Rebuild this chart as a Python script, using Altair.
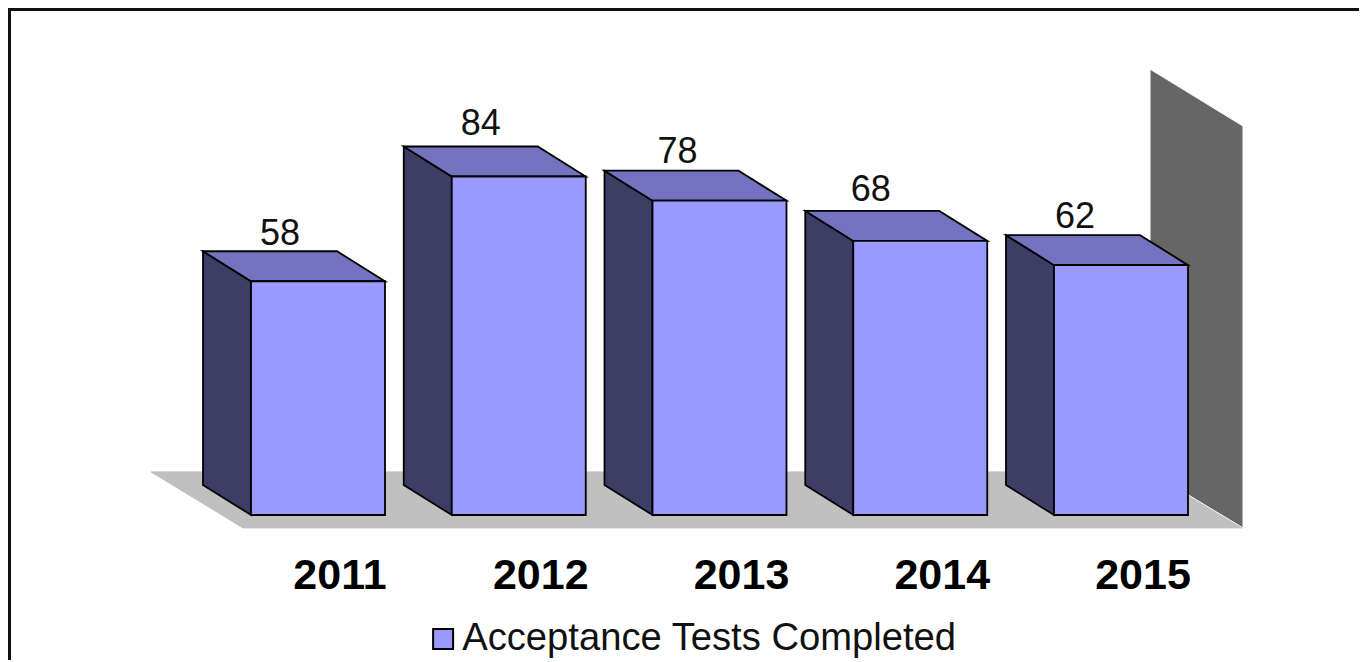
import altair as alt
import pandas as pd

years = ["2011", "2012", "2013", "2014", "2015"]
values = [58, 84, 78, 68, 62]
series_name = "Acceptance Tests Completed"
label_nudge_x = [-38, -38, -42, -49.5, -46]
label_nudge_y = [0, 5, 1, 3, 1]

W, H = 1351, 652
# scale units: 1 x unit = one category slot, 1 y unit = one test
SLOT_PX = 200.75
UNIT_PX = 4.03
X0_PAGE, Y0_PAGE = 251, 515
x_dom = [(8 - X0_PAGE) / SLOT_PX, (8 + W - X0_PAGE) / SLOT_PX]
y_dom = [(Y0_PAGE - 8 - H) / UNIT_PX, (Y0_PAGE - 8) / UNIT_PX]
xs = alt.Scale(domain=x_dom, nice=False, zero=False)
ys = alt.Scale(domain=y_dom, nice=False, zero=False)

BAR_W = 134 / SLOT_PX
DX = 48 / SLOT_PX     # depth offset
DY = 30 / UNIT_PX
LABEL_SHIFT = 22 / SLOT_PX
AXIS_MAX = 96.5       # front height of the back wall
FLOOR_DROP = 3.2

front, side, top, labels = [], [], [], []
for i, (yr, v) in enumerate(zip(years, values)):
    front.append(dict(year=yr, series=series_name, x=i, x2=i + BAR_W, y=v, y2=0))
    side += [dict(year=yr, x=i - DX, y=v + DY, y2=DY), dict(year=yr, x=i, y=v, y2=0)]
    top += [
        dict(year=yr, x=i - DX, y=v + DY, y2=v + DY),
        dict(year=yr, x=i, y=v + DY, y2=v),
        dict(year=yr, x=i + BAR_W - DX, y=v + DY, y2=v),
        dict(year=yr, x=i + BAR_W, y=v, y2=v),
    ]
    labels.append(dict(year=yr, value=str(v),
                       vx=i + BAR_W / 2 + label_nudge_x[i] / SLOT_PX,
                       vy=v + DY + label_nudge_y[i] / UNIT_PX,
                       yx=i + BAR_W / 2 + LABEL_SHIFT, yy=0))

n = len(years)
right_front = n - 1 + BAR_W + 55 / SLOT_PX
floor_left = -100 / SLOT_PX
floor_back = -FLOOR_DROP + 56 / UNIT_PX
floor = [
    dict(x=floor_left, y=floor_back, y2=floor_back),
    dict(x=floor_left + 92 / SLOT_PX, y=floor_back, y2=-FLOOR_DROP),
    dict(x=right_front - 93 / SLOT_PX, y=floor_back, y2=-FLOOR_DROP),
    dict(x=right_front, y=-FLOOR_DROP, y2=-FLOOR_DROP),
]
wall = [
    dict(x=right_front - 93 / SLOT_PX, y=AXIS_MAX + 57 / UNIT_PX, y2=floor_back),
    dict(x=right_front, y=AXIS_MAX, y2=-FLOOR_DROP),
]

def poly(rows, fill, stroke, sw):
    enc = dict(
        x=alt.X("x:Q", scale=xs, axis=None),
        y=alt.Y("y:Q", scale=ys, axis=None),
        y2="y2:Q",
    )
    if rows and "year" in rows[0]:
        enc["detail"] = "year:N"
    return alt.Chart(pd.DataFrame(rows)).mark_area(
        fill=fill, stroke=stroke, strokeWidth=sw, opacity=1
    ).encode(**enc)

floor_l = poly(floor, "#C0C0C0", "#C0C0C0", 1)
wall_l = poly(wall, "#666666", "#FFFFFF", 1)
side_l = poly(side, "#3D3D66", "#000000", 1.8)
top_l = poly(top, "#7373BF", "#000000", 1.8)

front_l = alt.Chart(pd.DataFrame(front)).mark_bar(stroke="#000000", strokeWidth=1.8, opacity=1).encode(
    x=alt.X("x:Q", scale=xs, axis=None),
    x2="x2:Q",
    y=alt.Y("y:Q", scale=ys, axis=None),
    y2="y2:Q",
    color=alt.Color(
        "series:N",
        scale=alt.Scale(domain=[series_name], range=["#9999FF"]),
        legend=alt.Legend(
            orient="none", legendX=416, legendY=612, title=None,
            symbolType="square", symbolSize=400, symbolStrokeColor="#000000",
            symbolStrokeWidth=2, symbolOpacity=1, labelFont="Liberation Sans",
            labelFontSize=38.2, labelColor="#111111", labelOffset=0,
            padding=0, labelLimit=700,
        ),
    ),
)

lab = pd.DataFrame(labels)
value_l = alt.Chart(lab).mark_text(
    font="Liberation Sans", fontSize=36, color="#111111", baseline="alphabetic", align="center", dy=-6.5
).encode(
    x=alt.X("vx:Q", scale=xs, axis=None),
    y=alt.Y("vy:Q", scale=ys, axis=None),
    text="value:N",
)
year_l = alt.Chart(lab).mark_text(
    font="Liberation Sans", fontSize=43, fontWeight="bold", color="#000000",
    baseline="alphabetic", align="center", dy=74
).encode(
    x=alt.X("yx:Q", scale=xs, axis=None),
    y=alt.Y("yy:Q", scale=ys, axis=None),
    text="year:N",
)

frame_src = pd.DataFrame({"k": ["top", "left"]})
frame_top = alt.Chart(frame_src).transform_filter("datum.k == 'top'").mark_rule(color="#111111", strokeWidth=3).encode(
    x=alt.value(0), x2=alt.value(W), y=alt.value(1.5))
frame_left = alt.Chart(frame_src).transform_filter("datum.k == 'left'").mark_rule(color="#111111", strokeWidth=3).encode(
    x=alt.value(1.5), y=alt.value(0), y2=alt.value(H))

chart = alt.layer(
    floor_l, wall_l, side_l, top_l, front_l, value_l, year_l, frame_top, frame_left
).properties(
    width=W, height=H, padding=0, autosize=alt.AutoSizeParams(type="none"), background="#FFFFFF"
).configure_view(stroke=None)

chart.save("out.html", embed_options={"renderer": "svg", "actions": False})
